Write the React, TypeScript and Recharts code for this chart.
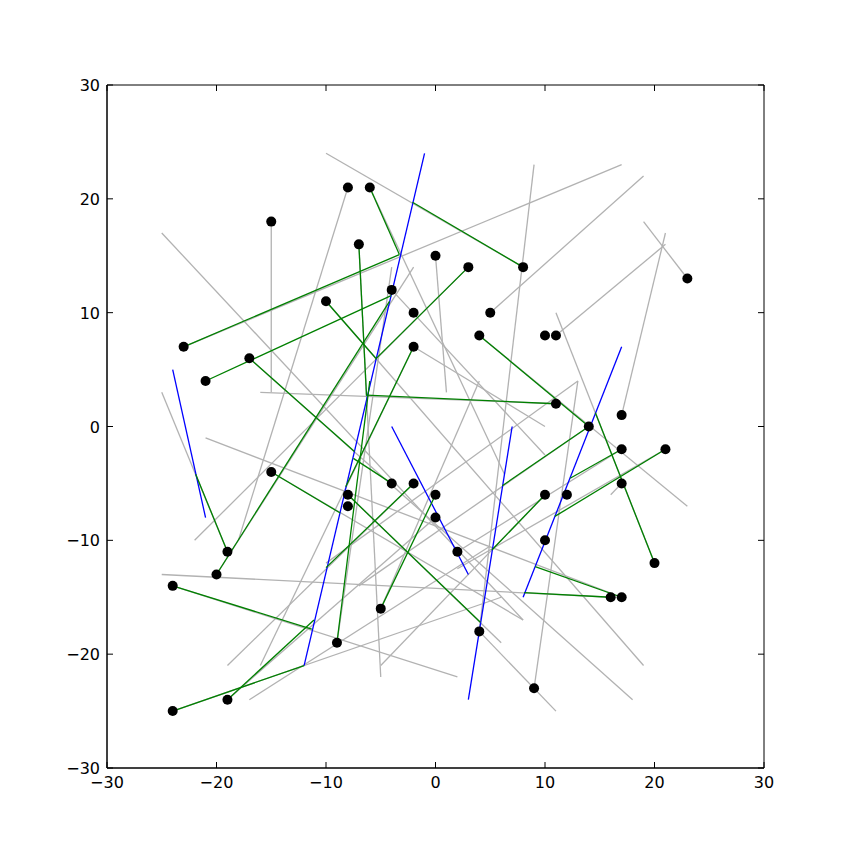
import { ScatterChart, Scatter, XAxis, YAxis, ReferenceLine, ReferenceArea } from 'recharts'

// segments are [x1, y1, x2, y2]
const graySegments: number[][] = [
  [-25, 17, 8, -17],
  [-15, 18, -15, 3],
  [-16, 3, 11, 2],
  [-8, 21, -18, -10],
  [-10, 24, 8, 14],
  [9, 23, 4, -18],
  [17, 23, -23, 7],
  [19, 22, 5, 10],
  [23, 13, 19, 18],
  [21, 17, 17, 1],
  [21, 16, 11, 8],
  [11, 10, 20, -12],
  [4, 8, 23, -7],
  [-6, 21, 6.3, -4.2],
  [-7, 16, -5, -22],
  [-25, 3, -19, -11],
  [-21, -1, 17, -15],
  [-15, -4, 8, -17],
  [-25, -13, 16, -15],
  [-22, -10, 3, 14],
  [-16, -21, -2, 7],
  [-19, -21, -2, -5],
  [-24, -14, 2, -22],
  [-24, -25, 6, -15],
  [-19, -24, 0, -8],
  [-9, -19, -4, 14],
  [-8, -6, 6, -19],
  [-17, -24, 5, -10.5],
  [10, -6, -5, -21],
  [0, 15, 1, 3],
  [-4, 12, 10, -2.5],
  [-10, 11, 19, -21],
  [-2, 7, 10, 0],
  [13, 4, -10, -12],
  [21, -2, 2, -12.5],
  [17, -2, 2, -11],
  [14, 0, -7, -14],
  [17, -5, 16, -6],
  [9, -23, 13, 4],
  [-5, -16, 4, 4],
  [-17, 6, 18, -24],
  [-20, -13, -2, 14],
  [4, -18, 11, -25],
]

const greenSegments: number[][] = [
  [-23, 7, -3.3, 15.1],
  [-21, 4, -4.05, 11.5],
  [-6, 21, -3.3, 15.1],
  [8, 14, -2.1, 19.7],
  [-7, 16, -6.3, 2.7],
  [-10, 11, -5.45, 6],
  [3, 14, -5.5, 5.9],
  [-2, 7, -8.2, -5.3],
  [11, 2, -6.3, 2.75],
  [4, 8, 14, 0],
  [14, 0, 6.1, -5.2],
  [17, -2, 12.3, -4.55],
  [21, -2, 10.9, -7.9],
  [20, -12, 14.6, 1.2],
  [10, -6, 5.15, -10.85],
  [16, -15, 8.1, -14.6],
  [17, -15, 9.1, -12.3],
  [-15, -4, -8.7, -7.6],
  [-17, 6, -7.4, -2.2],
  [-4, -5, -7.5, -2.8],
  [-19, -11, -21.9, -4.2],
  [-20, -13, -4.2, 11],
  [-24, -14, -11.3, -17.8],
  [-24, -25, -12, -21],
  [-19, -24, -11.1, -17],
  [-9, -19, -6, 4],
  [-5, -16, 0, -6],
  [-8, -6, 4.1, -17.2],
  [-2, -5, -10, -12.4],
]

const blueSegments: number[][] = [
  [-1, 24, -12, -21],
  [-24, 5, -21, -8],
  [-4, 0, 3, -13],
  [7, 0, 3, -24],
  [17, 7, 8, -15],
]

const dotX = [-15, -8, -6, -7, 0, 3, 8, 23, -10, -4, -2, 5, 10, 11, 4, -2, -23, -21, -17, 11, 14, 17, 17, 21, 17, -4, -2, -15, -8, -8, 0, 0, 10, 12, 10, -19, -20, 2, 20, -24, 16, 17, -5, -9, 4, 9, -24, -19]
const dotY = [18, 21, 21, 16, 15, 14, 14, 13, 11, 12, 10, 10, 8, 8, 8, 7, 7, 4, 6, 2, 0, 1, -2, -2, -5, -5, -5, -4, -6, -7, -6, -8, -6, -6, -10, -11, -13, -11, -12, -14, -15, -15, -16, -19, -18, -23, -25, -24]

const ticks = [-30, -20, -10, 0, 10, 20, 30]

const dots = dotX.map((x, i) => ({ x, y: dotY[i] }))

const fmt = (v: number) => (v < 0 ? '\u2212' + Math.abs(v) : String(v))
const font = 'DejaVu Sans, sans-serif'

// bottom axis tick also draws the matching tick on the top spine
function BottomTick(props: any) {
  const { x, y, payload, plotH } = props
  return (
    <g>
      <line x1={x} x2={x} y1={y} y2={y - 6} stroke="#000" />
      <line x1={x} x2={x} y1={y - plotH} y2={y - plotH + 6} stroke="#000" />
      <text x={x} y={y + 20} textAnchor="middle" fontFamily={font} fontSize={16} fill="#000">
        {fmt(payload.value)}
      </text>
    </g>
  )
}

// left axis tick also draws the matching tick on the right spine
function LeftTick(props: any) {
  const { x, y, payload, plotW } = props
  return (
    <g>
      <line x1={x} x2={x + 6} y1={y} y2={y} stroke="#000" />
      <line x1={x + plotW} x2={x + plotW - 6} y1={y} y2={y} stroke="#000" />
      <text x={x - 7} y={y + 6} textAnchor="end" fontFamily={font} fontSize={16} fill="#000">
        {fmt(payload.value)}
      </text>
    </g>
  )
}

function Dot(props: any) {
  return <circle cx={props.cx} cy={props.cy} r={5} fill="#000" />
}

function seg(s: number[], color: string, key: string) {
  return (
    <ReferenceLine
      key={key}
      segment={[{ x: s[0], y: s[1] }, { x: s[2], y: s[3] }]}
      stroke={color}
      strokeWidth={1.3}
      ifOverflow="visible"
    />
  )
}

export default function App() {
  return (
    <div style={{ position: 'absolute', left: 0, top: 0, background: '#fff' }}>
      <ScatterChart width={848} height={853} margin={{ top: 85, right: 84, bottom: 0, left: 0 }}>
        <XAxis
          dataKey="x"
          type="number"
          domain={[-30, 30]}
          ticks={ticks}
          interval={0}
          height={85}
          tickSize={0}
          tickMargin={0}
          tickLine={false}
          axisLine={{ stroke: '#000' }}
          tick={<BottomTick plotH={683} />}
          allowDataOverflow
        />
        <YAxis
          dataKey="y"
          type="number"
          domain={[-30, 30]}
          ticks={ticks}
          interval={0}
          width={107}
          tickSize={0}
          tickMargin={0}
          tickLine={false}
          axisLine={{ stroke: '#000' }}
          tick={<LeftTick plotW={657} />}
          allowDataOverflow
        />
        <ReferenceArea x1={-30} x2={30} y1={-30} y2={30} fill="none" stroke="#000" strokeWidth={1} ifOverflow="visible" />
        {graySegments.map((s, i) => seg(s, '#b2b2b2', 'g' + i))}
        {blueSegments.map((s, i) => seg(s, '#0000ff', 'b' + i))}
        {greenSegments.map((s, i) => seg(s, '#008000', 'n' + i))}
        <Scatter data={dots} shape={<Dot />} isAnimationActive={false} />
      </ScatterChart>
    </div>
  )
}
